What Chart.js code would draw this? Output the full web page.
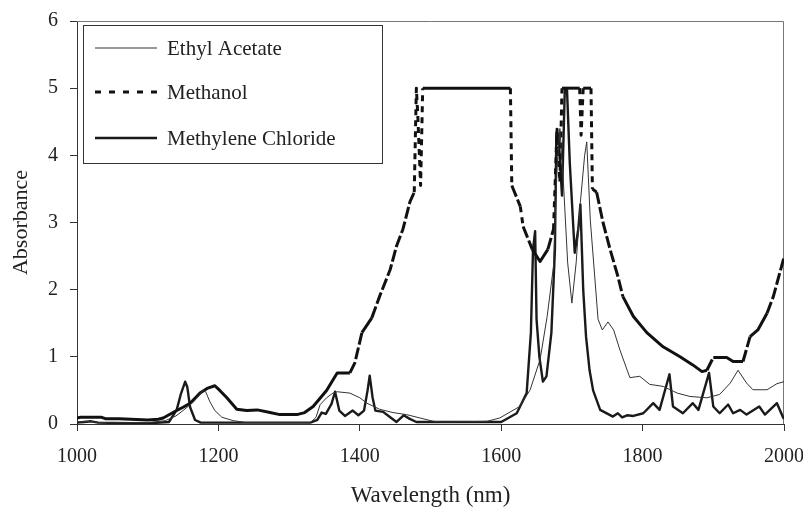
<!DOCTYPE html>
<html>
<head>
<meta charset="utf-8">
<title>Absorbance spectra</title>
<script src="https://cdn.jsdelivr.net/npm/chart.js@4.4.1/dist/chart.umd.min.js"></script>
<style>
  html, body { margin: 0; padding: 0; background: #fff; }
  #wrap { width: 803px; height: 507px; }
</style>
</head>
<body>
<div id="wrap"><canvas id="spectra" width="803" height="507"></canvas></div>
<script>
// Spectra (wavelength in nm, absorbance)
const ethylNm = [1000, 1020, 1030, 1100, 1125, 1140, 1150, 1165, 1178, 1182, 1188, 1195, 1205, 1221, 1240, 1330,
    1338, 1344, 1353, 1362, 1368, 1386, 1400, 1410, 1428, 1447, 1466, 1485, 1504, 1520, 1580, 1598, 1626, 1641,
    1655, 1665, 1674, 1679, 1683, 1688, 1694, 1700, 1706, 1712, 1718, 1721, 1726, 1737, 1743, 1751, 1759, 1768,
    1782, 1796, 1810, 1829, 1849, 1867, 1891, 1909, 1924, 1935, 1947, 1956, 1976, 1990, 2000];
const ethylAbs = [0.03, 0.04, 0.02, 0.02, 0.05, 0.12, 0.2, 0.33, 0.5, 0.48, 0.33, 0.2, 0.1, 0.05, 0.02, 0.02,
    0.1, 0.29, 0.39, 0.46, 0.48, 0.46, 0.39, 0.31, 0.22, 0.17, 0.14, 0.09, 0.04, 0.03, 0.04, 0.09, 0.26, 0.51,
    0.96, 1.6, 2.35, 3.8, 4.4, 3.6, 2.4, 1.8, 2.4, 3.3, 4.0, 4.2, 3.04, 1.56, 1.4, 1.52, 1.4, 1.1,
    0.69, 0.71, 0.59, 0.56, 0.46, 0.41, 0.39, 0.44, 0.61, 0.8, 0.61, 0.51, 0.51, 0.6, 0.63];

const methanolNm = [1000, 1005, 1035, 1040, 1060, 1100, 1115, 1122, 1139, 1150, 1160, 1174, 1184, 1195, 1202, 1212,
    1226, 1240, 1255, 1273, 1287, 1311, 1322, 1334, 1353, 1368, 1386, 1393, 1403, 1417, 1428, 1443, 1452, 1461,
    1471, 1477, 1480, 1482, 1486, 1489, 1613, 1615, 1627, 1631, 1644, 1655, 1666, 1674, 1679, 1683, 1686, 1711,
    1713, 1716, 1727, 1729, 1735, 1744, 1754, 1765, 1772, 1787, 1806, 1829, 1853, 1871, 1884, 1891, 1900, 1919,
    1928, 1942, 1952, 1963, 1976, 1985, 1994, 2000];
const methanolAbs = [0.09, 0.1, 0.1, 0.08, 0.08, 0.06, 0.07, 0.09, 0.19, 0.25, 0.31, 0.46, 0.53, 0.57, 0.5, 0.39,
    0.22, 0.2, 0.21, 0.17, 0.14, 0.14, 0.17, 0.26, 0.5, 0.76, 0.76, 0.91, 1.36, 1.58, 1.9, 2.3, 2.65, 2.9,
    3.31, 3.45, 5.0, 4.6, 3.55, 5.0, 5.0, 3.55, 3.24, 2.94, 2.6, 2.42, 2.6, 2.9, 4.39, 3.6, 5.0, 5.0,
    4.3, 5.0, 5.0, 3.5, 3.45, 3.0, 2.6, 2.2, 1.9, 1.6, 1.36, 1.15, 1.0, 0.88, 0.78, 0.8, 0.99, 0.99,
    0.93, 0.93, 1.3, 1.4, 1.65, 1.9, 2.25, 2.48];

const chlorideNm = [1000, 1010, 1020, 1030, 1100, 1130, 1141, 1147, 1153, 1156, 1160, 1167, 1175, 1330, 1340, 1346,
    1352, 1360, 1365, 1371, 1379, 1390, 1398, 1406, 1411, 1414, 1418, 1422, 1433, 1443, 1452, 1462, 1470, 1480,
    1600, 1622, 1636, 1642, 1645, 1648, 1650, 1654, 1659, 1664, 1671, 1676, 1678, 1681, 1686, 1690, 1693, 1697,
    1704, 1709, 1712, 1716, 1720, 1725, 1730, 1740, 1758, 1765, 1771, 1778, 1787, 1801, 1815, 1824, 1838, 1843,
    1857, 1871, 1879, 1894, 1900, 1909, 1921, 1928, 1938, 1947, 1965, 1973, 1990, 1999, 2000];
const chlorideAbs = [0.02, 0.03, 0.04, 0.02, 0.01, 0.03, 0.21, 0.45, 0.63, 0.55, 0.25, 0.06, 0.02, 0.02, 0.06, 0.17,
    0.15, 0.3, 0.48, 0.2, 0.12, 0.2, 0.13, 0.2, 0.5, 0.72, 0.4, 0.2, 0.18, 0.1, 0.03, 0.13, 0.08, 0.03,
    0.03, 0.16, 0.46, 1.36, 2.6, 2.87, 1.56, 1.0, 0.63, 0.71, 1.36, 2.6, 4.34, 4.3, 3.4, 5.0, 5.0, 3.89,
    2.55, 2.9, 3.27, 2.0, 1.3, 0.8, 0.5, 0.21, 0.11, 0.16, 0.1, 0.13, 0.12, 0.16, 0.31, 0.21, 0.74, 0.26,
    0.16, 0.31, 0.21, 0.76, 0.26, 0.16, 0.29, 0.16, 0.21, 0.14, 0.26, 0.14, 0.31, 0.09, 0.08];

const xTicks = [1000, 1200, 1400, 1600, 1800, 2000];
const yTicks = [0, 1, 2, 3, 4, 5, 6];

const serif = '"Liberation Serif", "Times New Roman", serif';

function toPoints(xs, ys) {
    return xs.map((x, i) => ({ x: x, y: ys[i] }));
}

// methanol is a dashed line; the dashes only really show where the trace is steep
function steepDash(ctx) {
    const dx = Math.abs(ctx.p1.x - ctx.p0.x);
    const dy = Math.abs(ctx.p1.y - ctx.p0.y);
    if (dy > 6 * dx) return [6, 5];
    if (dy > 2 * dx) return [12, 3];
    return undefined;
}

// box around the plot (top and right edges are lighter)
const frame = {
    id: 'frame',
    beforeDatasetsDraw(chart) {
        const a = chart.chartArea;
        const c = chart.ctx;
        c.save();
        c.strokeStyle = '#777';
        c.lineWidth = 1;
        c.beginPath();
        c.moveTo(a.left, a.top + 0.5);
        c.lineTo(a.right - 0.5, a.top + 0.5);
        c.lineTo(a.right - 0.5, a.bottom);
        c.stroke();
        c.restore();
    }
};

// legend in a box inside the plot, upper left
const boxLegend = {
    id: 'boxLegend',
    afterDraw(chart) {
        const c = chart.ctx;
        const a = chart.chartArea;
        const left = a.left + 6, top = a.top + 4, w = 299, h = 138;
        c.save();
        c.fillStyle = '#fff';
        c.fillRect(left, top, w, h);
        c.strokeStyle = '#333';
        c.lineWidth = 1;
        c.strokeRect(left + 0.5, top + 0.5, w, h);
        const rows = [23, 67, 113];
        chart.data.datasets.forEach((ds, i) => {
            const y = top + rows[i];
            c.beginPath();
            c.strokeStyle = ds.borderColor;
            c.lineWidth = ds.borderWidth;
            c.setLineDash(ds.legendDash || []);
            c.moveTo(left + 12, y);
            c.lineTo(left + 74, y);
            c.stroke();
            c.setLineDash([]);
            c.fillStyle = '#222';
            c.font = '21px ' + serif;
            c.textBaseline = 'middle';
            c.textAlign = 'left';
            c.fillText(ds.label, left + 84, y + 1);
        });
        c.restore();
    }
};

new Chart(document.getElementById('spectra'), {
    type: 'line',
    data: {
        datasets: [{
            label: 'Ethyl Acetate',
            data: toPoints(ethylNm, ethylAbs),
            borderColor: '#333',
            borderWidth: 1
        }, {
            label: 'Methanol',
            data: toPoints(methanolNm, methanolAbs),
            borderColor: '#111',
            borderWidth: 3,
            legendDash: [6, 8],
            segment: { borderDash: steepDash }
        }, {
            label: 'Methylene Chloride',
            data: toPoints(chlorideNm, chlorideAbs),
            borderColor: '#1a1a1a',
            borderWidth: 2.4
        }]
    },
    options: {
        responsive: false,
        animation: false,
        events: [],
        layout: { padding: { left: 0, top: 21, right: 19, bottom: 0 } },
        elements: {
            point: { radius: 0 },
            line: { tension: 0, borderJoinStyle: 'round', fill: false }
        },
        plugins: {
            legend: { display: false },
            tooltip: { enabled: false }
        },
        scales: {
            x: {
                type: 'linear',
                min: 1000,
                max: 2000,
                afterBuildTicks: s => { s.ticks = xTicks.map(v => ({ value: v })); },
                afterFit: s => { s.height = 83; s.paddingLeft = 0; s.paddingRight = 0; },
                ticks: {
                    font: { family: serif, size: 20 },
                    color: '#222',
                    padding: 14,
                    maxRotation: 0,
                    callback: v => String(v)
                },
                grid: { drawOnChartArea: false, drawTicks: true, tickLength: 7, color: '#333' },
                border: { display: true, color: '#333', width: 1 },
                title: {
                    display: true,
                    text: 'Wavelength (nm)',
                    font: { family: serif, size: 23, lineHeight: 1 },
                    color: '#222',
                    padding: { top: 0, bottom: 0 }
                }
            },
            y: {
                min: 0,
                max: 6,
                afterBuildTicks: s => { s.ticks = yTicks.map(v => ({ value: v })); },
                afterFit: s => { s.width = 77; s.paddingTop = 0; s.paddingBottom = 0; },
                ticks: { font: { family: serif, size: 20 }, color: '#222', padding: 12 },
                grid: { drawOnChartArea: false, drawTicks: true, tickLength: 7, color: '#333' },
                border: { display: true, color: '#333', width: 1 },
                title: {
                    display: true,
                    text: 'Absorbance',
                    font: { family: serif, size: 22 },
                    color: '#222',
                    padding: { top: 8, bottom: 0 }
                }
            }
        }
    },
    plugins: [frame, boxLegend]
});
</script>
</body>
</html>
